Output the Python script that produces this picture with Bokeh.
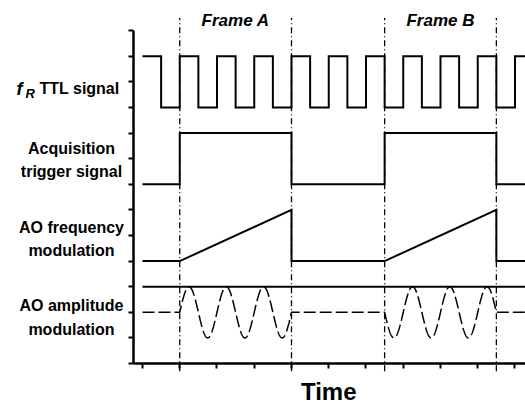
import numpy as np
from bokeh.plotting import figure
from bokeh.models import Range1d, LinearAxis, FixedTicker
from bokeh.core.properties import value
from bokeh.embed import file_html
from bokeh.resources import INLINE

# ---- timing data (time in units of one f_R period) ----
ttl_rise = [0, 1, 2, 3, 4, 5, 6, 7, 8, 9, 10]
ttl_fall = [0.5, 1.5, 2.5, 3.5, 4.5, 5.5, 6.5, 7.5, 8.5, 9.5]
ttl_high, ttl_low = 12, 10

frame_start = [1, 6.5]
frame_end = [4, 9.5]
frame_names = ["Frame A", "Frame B"]

acq_high, acq_low = 9, 7
fm_low, fm_high = 4, 6
am_top, am_rest, am_depth = 3, 2, 1
am_period = 1.0
t_end = 10.3

# ---- signal labels ----
label_text = ["Acquisition\ntrigger signal", "AO frequency\nmodulation", "AO amplitude\nmodulation"]
label_y = [7.95, 4.86, 1.8]
y_ticks = list(range(14))
x_ticks = list(range(11))

FONT = value("Liberation Sans")

# ---- build traces ----
ttl_x, ttl_y = [0], [ttl_high]
for f, r in zip(ttl_fall, ttl_rise[1:]):
    ttl_x += [f, f, r, r]
    ttl_y += [ttl_high, ttl_low, ttl_low, ttl_high]
ttl_x.append(t_end)
ttl_y.append(ttl_high)

acq_x, acq_y = [0], [acq_low]
fm_x, fm_y = [0], [fm_low]
for s, e in zip(frame_start, frame_end):
    acq_x += [s, s, e, e]
    acq_y += [acq_low, acq_high, acq_high, acq_low]
    fm_x += [s, e, e]
    fm_y += [fm_low, fm_high, fm_low]
acq_x.append(t_end)
acq_y.append(acq_low)
fm_x.append(t_end)
fm_y.append(fm_low)

am_x = np.linspace(0, t_end, 2000)
in_frame = np.zeros_like(am_x, dtype=bool)
for s, e in zip(frame_start, frame_end):
    in_frame |= (am_x >= s) & (am_x <= e)
am_y = np.where(in_frame, am_rest + am_depth * np.sin(2 * np.pi * am_x / am_period), am_rest)

# ---- figure ----
p = figure(width=525, height=405, x_range=Range1d(-3.812, 10.282), y_range=Range1d(-1.64, 14.18),
           x_axis_type=None, y_axis_type=None, output_backend="svg", toolbar_location=None,
           min_border=0)
p.outline_line_color = None
p.background_fill_color = "white"

# tick marks only, no tick numbers
axis_style = dict(major_tick_in=0, major_tick_out=5, minor_tick_out=0, minor_tick_in=0,
                  major_label_text_color=None, axis_line_width=2.5,
                  major_tick_line_width=2, axis_line_color="black", major_tick_line_color="black")
yax = LinearAxis(fixed_location=-0.2416, bounds=(0, 13), ticker=FixedTicker(ticks=y_ticks), **axis_style)
xax = LinearAxis(fixed_location=0, bounds=(-0.2416, t_end), ticker=FixedTicker(ticks=x_ticks), **axis_style)
p.add_layout(yax, "left")
p.add_layout(xax, "below")

# frame boundary markers
edges = frame_start + frame_end
p.segment(x0=edges, y0=[-0.3] * 4, x1=edges, y1=[13.5] * 4,
          line_color="black", line_width=1.3, line_dash="6 3 1 3")

line_kw = dict(line_color="black", line_width=2, line_join="miter")
p.line(ttl_x, ttl_y, **line_kw)
p.line(acq_x, acq_y, **line_kw)
p.line(fm_x, fm_y, **line_kw)
p.line([0, t_end], [am_top, am_top], **line_kw)
p.line(am_x, am_y, line_color="black", line_width=1.5, line_dash="12 4")

# frame titles
mid = [(s + e) / 2 for s, e in zip(frame_start, frame_end)]
p.text(x=mid, y=[13.4] * 2, text=frame_names, text_font=FONT, text_font_style="bold italic",
       text_font_size="17px", text_align="center", text_baseline="middle", text_color="black")

# channel labels
p.text(x=[-3.383], y=[10.74], text=["f"], text_font=FONT, text_font_style="bold italic",
       text_font_size="18px", text_align="left", text_baseline="alphabetic")
p.text(x=[-3.14], y=[10.55], text=["R"], text_font=FONT, text_font_style="bold italic",
       text_font_size="13px", text_align="left", text_baseline="alphabetic")
p.text(x=[-2.765], y=[10.74], text=["TTL signal"], text_font=FONT, text_font_style="bold",
       text_font_size="16px", text_align="left", text_baseline="alphabetic")
p.text(x=[-1.906] * 3, y=label_y, text=label_text, text_font=FONT, text_font_style="bold",
       text_font_size="16px", text_align="center", text_baseline="middle", text_line_height=1.4)

# time axis title
p.text(x=[5], y=[-1.09], text=["Time"], text_font=FONT, text_font_style="bold",
       text_font_size="24px", text_align="center", text_baseline="middle")

open("out.html", "w").write(file_html(p, INLINE))
